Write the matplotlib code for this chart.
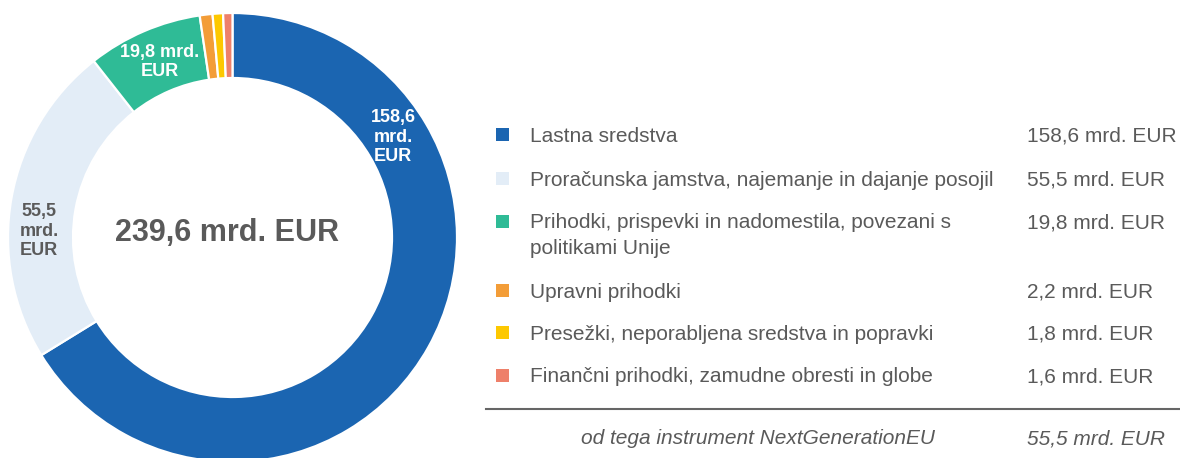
import matplotlib
matplotlib.use("Agg")
import matplotlib.pyplot as plt
from matplotlib.patches import Rectangle

plt.rcParams['font.family'] = ['Liberation Sans', 'DejaVu Sans']

categories = [
    "Lastna sredstva",
    "Proračunska jamstva, najemanje in dajanje posojil",
    "Prihodki, prispevki in nadomestila, povezani s\npolitikami Unije",
    "Upravni prihodki",
    "Presežki, neporabljena sredstva in popravki",
    "Finančni prihodki, zamudne obresti in globe",
]
values = [158.6, 55.5, 19.8, 2.2, 1.8, 1.6]
colors = ["#1b65b1", "#e3edf7", "#2fbb96", "#f39d38", "#fdc800", "#ee806a"]
total_label = "239,6 mrd. EUR"
ngeu_label = "od tega instrument NextGenerationEU"
ngeu_value = 55.5

def fmt(v):
    return f"{v:.1f}".replace('.', ',') + " mrd. EUR"

W, H = 1180, 458
fig = plt.figure(figsize=(W / 100, H / 100), dpi=100)
ax = fig.add_axes([0, 0, 1, 1])

def Y(yp):
    return H - yp

cx, cy, R = 232.5, 237.5, 224.5
ax.pie(values, colors=colors, startangle=90, counterclock=False, radius=R,
       center=(cx, Y(cy)),
       wedgeprops=dict(width=65, edgecolor='white', linewidth=1.6))
ax.set_xlim(0, W)
ax.set_ylim(0, H)
ax.set_aspect('auto')
ax.axis('off')

grey = "#5a5a5a"
# slice labels
ax.text(393, Y(137), "158,6\nmrd.\nEUR", ha='center', va='center', color='white',
        fontsize=13, fontweight='bold', linespacing=1.22)
ax.text(39, Y(231), "55,5\nmrd.\nEUR", ha='center', va='center', color=grey,
        fontsize=13, fontweight='bold', linespacing=1.22)
ax.text(160, Y(62), "19,8 mrd.\nEUR", ha='center', va='center', color='white',
        fontsize=13, fontweight='bold', linespacing=1.22)
ax.text(227, Y(233), total_label, ha='center', va='center', color=grey,
        fontsize=22, fontweight='bold')

# legend
row_y = [134, 178, 221, 290, 332, 375]
sq = 13
fs = 15
for cat, val, col, yy in zip(categories, values, colors, row_y):
    ax.add_patch(Rectangle((496, Y(yy) - sq / 2), sq, sq, facecolor=col, edgecolor='none'))
    for i, line in enumerate(cat.split('\n')):
        ax.text(530, Y(yy + i * 26), line, ha='left', va='center_baseline',
                color=grey, fontsize=fs)
    ax.text(1027, Y(yy), fmt(val), ha='left', va='center_baseline', color=grey, fontsize=fs)

ax.plot([486, W], [Y(409), Y(409)], color="#666666", linewidth=1.5)
ax.text(935, Y(437), ngeu_label, ha='right', va='center_baseline', color=grey,
        fontsize=fs, style='italic')
ax.text(1027, Y(437), fmt(ngeu_value), ha='left', va='center_baseline', color=grey,
        fontsize=fs, style='italic')

fig.savefig("out.png", dpi=100)
